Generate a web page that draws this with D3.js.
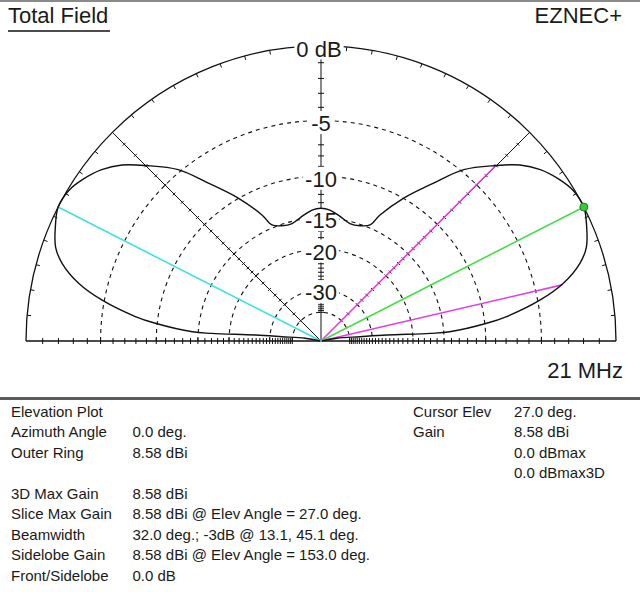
<!DOCTYPE html>
<html><head><meta charset="utf-8">
<script src="https://cdn.jsdelivr.net/npm/d3@7"></script>
<style>
body{margin:0;background:#fff}
svg{display:block}
text{font-family:"Liberation Sans",Arial,sans-serif;fill:#1a1a1a}
</style>
</head><body>
<svg id="chart" width="640" height="592"></svg>
<script>
// ---------------- data ----------------
const patternElev = [0, 9.8, 6.3, 5.2, 4.0, 4.1, 6.1, 7.5, 10.6, 13.4, 16.7, 19.5, 23.3, 27.0, 30.9, 34.0, 38.0, 41.5, 45.1, 50.2, 54.5, 60.0, 64.9, 67.1, 71.3, 76.2, 81.3, 86.1, 90.0,
  93.9, 98.7, 103.8, 108.7, 112.9, 115.1, 120.0, 125.5, 129.8, 134.9, 138.5, 142.0, 146.0, 149.1, 153.0, 156.7, 160.5, 163.3, 166.6, 169.4, 172.5, 173.9, 175.9, 176.0, 174.8, 173.7, 170.2, 180];
const patternGainDb = [-99, -50, -34.6, -25.7, -17.0, -14.2, -9.8, -7.8, -4.8, -2.9, -1.5, -0.8, -0.34, 0, -0.08, -0.4, -1.0, -1.8, -3.0, -4.8, -7.2, -10.0, -12.9, -14.6, -15.2, -15.3, -14.6, -13.9, -13.7,
  -13.9, -14.6, -15.3, -15.2, -14.6, -12.9, -10.0, -7.2, -4.8, -3.0, -1.8, -1.0, -0.4, -0.08, 0, -0.34, -0.8, -1.5, -2.9, -4.8, -7.8, -9.8, -14.2, -17.0, -25.7, -34.6, -50, -99];
const ringDb = [-5, -10, -15, -20, -30, -40];
const ringLabelDb = [0, -5, -10, -15, -20, -30];
const ringLabels = ["0 dB", "-5", "-10", "-15", "-20", "-30"];
const radialElev = [45, 135];
const cursorElev = 27.0, cursorDb = 0;
const sidelobeElev = 153.0, sidelobeDb = 0;
const beamEdgeElev = [13.1, 45.1], beamEdgeDb = -3;
const infoLabels = ["Elevation Plot", "Azimuth Angle", "Outer Ring", "", "3D Max Gain", "Slice Max Gain", "Beamwidth", "Sidelobe Gain", "Front/Sidelobe"];
const infoValues = ["", "0.0 deg.", "8.58 dBi", "", "8.58 dBi", "8.58 dBi @ Elev Angle = 27.0 deg.", "32.0 deg.; -3dB @ 13.1, 45.1 deg.", "8.58 dBi @ Elev Angle = 153.0 deg.", "0.0 dB"];
const cursorLabels = ["Cursor Elev", "Gain", "", ""];
const cursorValues = ["27.0 deg.", "8.58 dBi", "0.0 dBmax", "0.0 dBmax3D"];

// ---------------- geometry ----------------
const cx = 321, cy = 341, R = 295;
const svg = d3.select("#chart");
// ARRL log scale: radius shrinks by 0.89 every 2 dB
const logR = d3.scaleLinear().domain([0, -2]).range([Math.log(R), Math.log(R * 0.89)]);
const rOf = db => Math.exp(logR(db));
const ang = d3.scaleLinear().domain([0, 180]).range([Math.PI / 2, -Math.PI / 2]);
const elRad = d3.scaleLinear().domain([0, 180]).range([0, Math.PI]);
const px = (el, r) => cx + r * Math.cos(elRad(el));
const py = (el, r) => cy - r * Math.sin(elRad(el));

// frame
svg.append("line").attr("x1", 0).attr("x2", 640).attr("y1", 1).attr("y2", 1)
  .attr("stroke", "#8a8a8a").attr("stroke-width", 2);
svg.append("line").attr("x1", 0).attr("x2", 640).attr("y1", 398.5).attr("y2", 398.5)
  .attr("stroke", "#5c5c5c").attr("stroke-width", 3);

const g = svg.append("g");
function semi(r) { const p = d3.path(); p.arc(cx, cy, r, Math.PI, 2 * Math.PI); return p.toString(); }

// dashed rings
g.selectAll(".ring").data(ringDb).enter().append("path")
  .attr("d", d => semi(rOf(d))).attr("fill", "none")
  .attr("stroke", "#111").attr("stroke-width", 1.1).attr("stroke-dasharray", "4,4");
// outer ring
g.append("path").attr("d", semi(R)).attr("fill", "none").attr("stroke", "#111").attr("stroke-width", 1.3);
// outer ring ticks every 5 degrees
g.selectAll(".otick").data(d3.range(5, 180, 5).filter(e => e !== 45 && e !== 135)).enter().append("line")
  .attr("x1", d => px(d, R)).attr("y1", d => py(d, R))
  .attr("x2", d => px(d, R - 4)).attr("y2", d => py(d, R - 4))
  .attr("stroke", "#111").attr("stroke-width", 1);
// baseline and vertical axis
g.append("line").attr("x1", cx - R).attr("x2", cx + R).attr("y1", cy).attr("y2", cy).attr("stroke", "#111").attr("stroke-width", 1.5);
g.append("line").attr("x1", cx).attr("x2", cx).attr("y1", cy).attr("y2", cy - R).attr("stroke", "#111").attr("stroke-width", 1);
// radial lines
g.selectAll(".rad").data(radialElev).enter().append("line")
  .attr("x1", cx).attr("y1", cy).attr("x2", d => px(d, R)).attr("y2", d => py(d, R))
  .attr("stroke", "#111").attr("stroke-width", 1);

const tickDb = d3.range(-1, -41, -1);
const diagTickDb = d3.range(-1, -21, -1).concat(d3.range(-22, -31, -2), [-35, -40]);
// baseline ticks both sides
[0, 180].forEach(el => {
  g.selectAll(null).data(tickDb).enter().append("line")
    .attr("x1", d => px(el, rOf(d))).attr("x2", d => px(el, rOf(d)))
    .attr("y1", cy - 3).attr("y2", cy + 3).attr("stroke", "#111").attr("stroke-width", 1);
});
// vertical axis ticks
g.selectAll(null).data(tickDb).enter().append("line")
  .attr("x1", cx - 3).attr("x2", cx + 3)
  .attr("y1", d => cy - rOf(d)).attr("y2", d => cy - rOf(d)).attr("stroke", "#111").attr("stroke-width", 1);
// radial line ticks (perpendicular)
radialElev.forEach(el => {
  const a = elRad(el), nx = -Math.sin(a), ny = -Math.cos(a);
  g.selectAll(null).data(diagTickDb).enter().append("line")
    .attr("x1", d => px(el, rOf(d)) + nx * 2).attr("y1", d => py(el, rOf(d)) + ny * 2)
    .attr("x2", d => px(el, rOf(d)) - nx * 2).attr("y2", d => py(el, rOf(d)) - ny * 2)
    .attr("stroke", "#111").attr("stroke-width", 1);
});

// ring labels with white background
const lab = g.selectAll(".rl").data(ringLabelDb).enter().append("g");
lab.append("rect").attr("fill", "#fff");
lab.append("text").text((d, i) => ringLabels[i])
  .attr("x", (d, i) => i === 0 ? cx - 2 : cx).attr("y", d => cy - rOf(d) + 10.5)
  .attr("text-anchor", "middle").attr("font-size", 22);
lab.each(function () {
  const t = d3.select(this).select("text"); const b = t.node().getBBox();
  const y = +t.attr("y");
  d3.select(this).select("rect").attr("x", b.x - 2).attr("width", b.width + 4)
    .attr("y", y - 20).attr("height", 23);
});

// cursor / beam / sidelobe lines
svg.append("line").attr("x1", cx).attr("y1", cy)
  .attr("x2", px(sidelobeElev, rOf(sidelobeDb))).attr("y2", py(sidelobeElev, rOf(sidelobeDb)))
  .attr("stroke", "#3fe0e0").attr("stroke-width", 1.6);
svg.selectAll(".beam").data(beamEdgeElev).enter().append("line")
  .attr("x1", cx).attr("y1", cy)
  .attr("x2", d => px(d, rOf(beamEdgeDb))).attr("y2", d => py(d, rOf(beamEdgeDb)))
  .attr("stroke", "#e040e0").attr("stroke-width", 1.6);
svg.append("line").attr("x1", cx).attr("y1", cy)
  .attr("x2", px(cursorElev, rOf(cursorDb))).attr("y2", py(cursorElev, rOf(cursorDb)))
  .attr("stroke", "#44dd44").attr("stroke-width", 1.6);

// pattern
const pts = patternElev.map((e, i) => ({ el: e, db: patternGainDb[i] }));
const line = d3.lineRadial().angle(d => ang(d.el)).radius(d => rOf(d.db)).curve(d3.curveCatmullRom.alpha(0.5));
svg.append("path").attr("d", line(pts)).attr("transform", `translate(${cx},${cy})`)
  .attr("fill", "none").attr("stroke", "#111").attr("stroke-width", 1.4);

// cursor dot
svg.append("circle").attr("cx", px(cursorElev, rOf(cursorDb))).attr("cy", py(cursorElev, rOf(cursorDb)))
  .attr("r", 4).attr("fill", "#33cc33").attr("stroke", "#2a7a2a").attr("stroke-width", 1);

// titles
svg.append("text").attr("x", 8).attr("y", 23).attr("font-size", 22).text("Total Field");
svg.append("line").attr("x1", 8).attr("x2", 110).attr("y1", 31).attr("y2", 31).attr("stroke", "#111").attr("stroke-width", 1.5);
svg.append("text").attr("x", 622).attr("y", 23).attr("font-size", 22).attr("text-anchor", "end").text("EZNEC+");
svg.append("text").attr("x", 623).attr("y", 378).attr("font-size", 22).attr("text-anchor", "end").text("21 MHz");

// info block
const rowY = i => 416.5 + i * 20.5;
svg.selectAll(".il").data(infoLabels).enter().append("text")
  .attr("x", 11).attr("y", (d, i) => rowY(i)).attr("font-size", 15).text(d => d);
svg.selectAll(".iv").data(infoValues).enter().append("text")
  .attr("x", 132.5).attr("y", (d, i) => rowY(i)).attr("font-size", 15).text(d => d);
svg.selectAll(".cl").data(cursorLabels).enter().append("text")
  .attr("x", 413).attr("y", (d, i) => rowY(i)).attr("font-size", 15).text(d => d);
svg.selectAll(".cv").data(cursorValues).enter().append("text")
  .attr("x", 514).attr("y", (d, i) => rowY(i)).attr("font-size", 15).text(d => d);
</script>
</body></html>
